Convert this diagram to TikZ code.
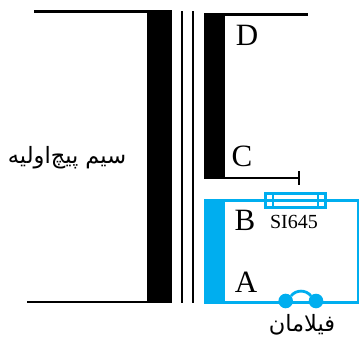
\documentclass[tikz,border=0pt]{standalone}
\usepackage{fontspec}
\usepackage{xcolor}
\setmainfont{Liberation Serif}
\newfontfamily\arabicfont[Script=Arabic]{DejaVu Sans}
\TeXXeTstate=1
\definecolor{wirecyan}{HTML}{00AEEF}
\tikzset{
    wire/.style={black, line width=2.8pt},
    cyanwire/.style={wirecyan, line width=2.8pt},
    letter/.style={inner sep=0pt, font=\fontsize{31}{31}\selectfont},
    farsi/.style={inner sep=0pt, font=\arabicfont\fontsize{22.5}{26}\selectfont}
}

\begin{document}
\begin{tikzpicture}[x=1pt, y=-1pt]
                \useasboundingbox (0,0) rectangle (359,340);

                %% primario
                \fill[black] (147,10) rectangle (172,303.4);
                \draw[wire] (34,11.5) -- (147,11.5);
                \draw[wire] (27,302) -- (147,302);
                \draw[wire] (182,11) -- (182,303);
                \draw[wire] (193,11) -- (193,303);
                \node[farsi] (primary) at (67,158) {\beginR سیم پیچ‌اولیه\endR};

                %D-C
                \fill[black] (203.5,13.1) rectangle (225,179.4);
                \draw[wire] (225,14.5) -- (308,14.5);
                \draw[wire] (225,178) -- (299,178);
                \draw[wire] (299,171) -- (299,185);
                \node[letter] (D) at (247,35) {D};
                \node[letter] (C) at (242,156) {C};

                %A-B
                \fill[wirecyan] (203.5,199.1) rectangle (225,304);
                \draw[cyanwire] (225,200.5) -- (358,200.5) -- (358,302.6) -- (225,302.6);
                \node[letter] (B) at (245,220) {B};
                \node[letter] (A) at (246,282) {A};

                %SI645
                \draw[cyanwire] (265.5,193.5) rectangle (325.5,207.5);
                \draw[cyanwire] (273,193.5) -- (273,207.5);
                \draw[cyanwire] (318,193.5) -- (318,207.5);
                \node[inner sep=0pt, font=\fontsize{20}{20}\selectfont] (fuse) at (294,222) {SI645};

                %filamento
                \fill[wirecyan] (285.7,301) circle (7.3);
                \fill[wirecyan] (316,301) circle (7.3);
                \draw[cyanwire] (291,296) .. controls (296,289.5) and (306,289.5) .. (311,296);
                \node[farsi] (filament) at (302,325) {\beginR فیلامان\endR};

            \end{tikzpicture}
\end{document}
